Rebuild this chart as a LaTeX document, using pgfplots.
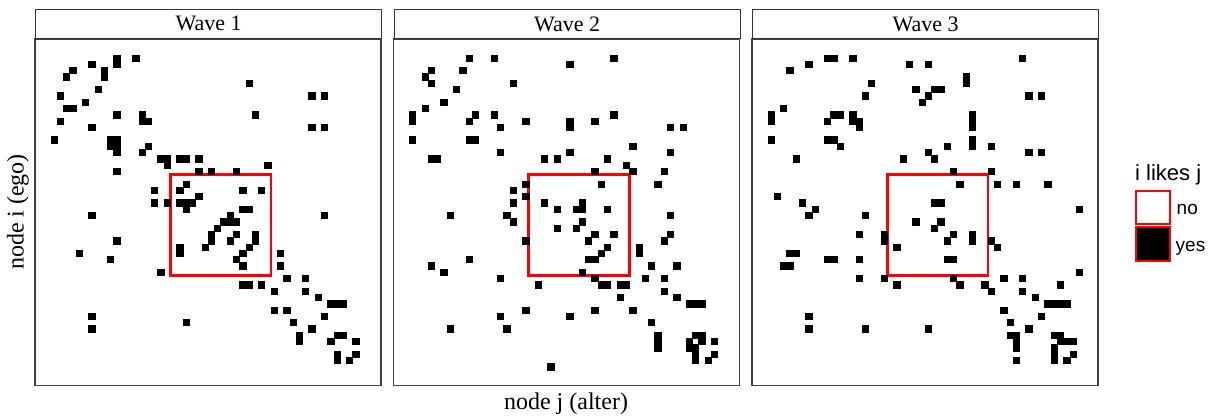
\documentclass[border=0pt]{standalone}
\usepackage{pgfplots}
\pgfplotsset{compat=1.18}
\usepackage{fontspec}
\setmainfont{Liberation Serif}
\newfontfamily\legendfont{Liberation Sans}

% one panel of the adjacency matrix: nodes 1..50, tiles span n-0.5..n+0.5
\pgfplotsset{
  wave/.style={
    scale only axis, width=346pt, height=346.5pt,
    xmin=-2, xmax=53, ymin=-2, ymax=53, y dir=reverse,
    xtick=\empty, ytick=\empty,
    axis line style={draw=black!75, line width=1.4pt},
    anchor=north west,
  },
  tie/.style={only marks, mark=square*, mark size=3.145pt,
    mark options={draw=none, fill=black}},
  block/.style={draw=red, line width=2.6pt, mark=none, line join=miter},
}
\tikzset{
  strip/.style={draw=black!80, line width=1.2pt, fill=white,
    minimum width=346pt, minimum height=29pt, inner sep=0pt,
    anchor=south west, font=\fontsize{22}{25}\selectfont},
}

\begin{document}
\begin{tikzpicture}
\useasboundingbox (0pt,0pt) rectangle (1212pt,-418pt);

% ---------------- Wave 1 ----------------
\begin{axis}[wave, at={(35pt,-39pt)}]
\addplot[tie] coordinates {
(11,1)(11,2)(14,1)(7,2)(4,3)(3,4)(9,3)(9,4)(8,6)(2,7)(6,8)(3,9)(4,9)(2,11)
(11,10)(15,10)(15,11)(16,11)(7,12)(1,14)(10,14)(11,14)(10,15)(11,15)(11,16)
(16,15)(15,16)(18,17)(19,17)(19,18)(21,17)(22,17)(24,17)(11,19)(24,19)(26,19)
(22,21)(17,22)(21,22)(24,23)(17,24)(19,24)(21,24)(22,24)(23,24)(22,25)(7,26)
(32,5)(42,7)(44,7)(33,10)(42,12)(44,12)(35,18)(30,19)(31,22)(34,22)(31,25)
(32,25)(29,26)(44,26)
(11,30)(5,32)(10,33)(18,35)(21,31)(21,32)(25,31)(26,29)(26,30)(7,42)(7,44)(22,43)
(28,27)(29,27)(30,27)(27,28)(30,29)(29,30)(33,29)(33,30)(32,31)(31,32)(30,33)
(31,34)(37,32)(37,34)(38,36)(41,36)(31,37)(32,37)(34,37)(36,38)(41,38)(43,39)
(45,40)(46,40)(47,40)(36,41)(38,41)(44,42)(39,43)(42,44)(40,45)(40,46)(46,45)
(47,45)(45,46)(49,46)(46,48)(46,49)(49,48)(48,49)
};
\addplot[block] coordinates {(19.5,19.5)(35.5,19.5)(35.5,35.5)(19.5,35.5)} -- cycle;
\end{axis}

% ---------------- Wave 2 ----------------
\begin{axis}[wave, at={(393.5pt,-39pt)}]
\addplot[tie] coordinates {
(10,1)(14,1)(26,2)(4,3)(3,4)(4,5)(9,3)(17,5)(8,6)(6,8)(3,9)(1,10)(1,11)(11,10)
(10,11)(14,10)(15,12)(19,11)(26,11)(26,12)(1,14)(10,14)(11,14)(15,16)(26,16)
(4,17)(5,17)(22,17)(24,17)(19,21)(17,22)(19,23)(17,24)(22,24)(24,25)(7,26)(16,26)
(33,1)(33,10)(30,11)(42,12)(44,12)(36,15)(42,16)(32,17)(35,18)(36,19)(30,19)
(41,19)(31,21)(40,21)(28,24)(27,25)(28,25)(32,25)(42,26)
(17,27)(24,28)(19,30)(10,33)(4,34)(6,35)(15,36)(21,37)(19,41)(15,42)(26,42)
(7,44)(16,44)(23,50)
(28,27)(27,28)(30,29)(29,30)(33,29)(32,31)(31,32)(29,33)(30,33)(28,35)(30,36)
(31,37)(32,37)(34,37)(35,37)(37,31)(37,32)(42,29)(41,30)(39,34)(43,34)(38,36)
(41,36)(34,39)(41,38)(43,39)(45,40)(46,40)(47,40)(30,41)(36,41)(39,43)(40,45)
(40,46)(40,47)(46,45)(47,45)(45,46)(47,46)(45,47)(46,47)(46,48)(46,49)(49,46)
(49,48)(48,49)
};
\addplot[block] coordinates {(19.5,19.5)(35.5,19.5)(35.5,35.5)(19.5,35.5)} -- cycle;
\end{axis}

% ---------------- Wave 3 ----------------
\begin{axis}[wave, at={(752pt,-39pt)}]
\addplot[tie] coordinates {
(10,1)(11,1)(14,1)(7,2)(4,3)(23,2)(26,2)(17,5)(24,6)(16,7)(26,7)(25,8)(3,9)
(1,10)(1,11)(11,10)(12,10)(10,11)(14,10)(14,11)(15,11)(15,12)(1,14)(10,14)
(11,14)(12,15)(5,17)(22,17)(26,16)(2,23)(6,24)(8,25)(7,26)(16,26)
(41,1)(32,4)(32,5)(27,6)(28,6)(42,7)(44,7)(33,10)(33,11)(33,12)(33,14)(33,15)
(29,15)(36,15)(27,17)(42,16)(44,16)(30,19)(36,19)(31,21)(37,21)(40,21)(45,21)
(27,24)(28,24)(50,25)
(24,27)(15,29)(19,29)(19,30)(21,31)(4,32)(5,32)(3,34)(4,34)(10,33)(11,33)
(15,33)(15,36)(19,36)(21,37)(7,42)(7,44)(16,44)(26,44)
(28,27)(27,28)(30,29)(29,30)(33,29)(33,30)(36,30)(37,31)(29,33)(30,33)(30,36)
(31,37)(35,37)(36,38)(38,36)(41,36)(41,38)(47,37)(50,35)(43,39)(45,40)(46,40)
(47,40)(48,40)(38,41)(44,42)(39,43)(42,44)(39,45)(40,45)(40,46)(40,47)(40,49)
(46,45)(47,45)(47,46)(48,46)(49,46)(46,47)(46,48)(46,49)(49,48)(48,49)
};
\addplot[block] coordinates {(19.5,19.5)(35.5,19.5)(35.5,35.5)(19.5,35.5)} -- cycle;
\end{axis}

% facet strips
\node[strip] at (35pt,-39pt) {\makebox[346pt]{Wave 1}};
\node[strip] at (393.5pt,-39pt) {\makebox[346pt]{Wave 2}};
\node[strip] at (752pt,-39pt) {\makebox[346pt]{Wave 3}};

% axis titles
\node[rotate=90, font=\fontsize{24}{28}\selectfont] at (18pt,-212pt) {node i (ego)};
\node[font=\fontsize{24}{28}\selectfont] at (566pt,-404pt) {node j (alter)};

% legend
\node[anchor=base west, inner sep=0pt, font=\legendfont\fontsize{22}{26}\selectfont] at (1135pt,-180pt) {i likes j};
\draw[red, line width=2pt, fill=white] (1136pt,-191pt) rectangle (1170pt,-224pt);
\draw[red, line width=2pt, fill=black] (1136pt,-226.5pt) rectangle (1170pt,-261pt);
\node[anchor=base west, inner sep=0pt, font=\legendfont\fontsize{19}{22}\selectfont] at (1176.5pt,-214pt) {no};
\node[anchor=base west, inner sep=0pt, font=\legendfont\fontsize{19}{22}\selectfont] at (1175.5pt,-251.5pt) {yes};
\end{tikzpicture}
\end{document}
